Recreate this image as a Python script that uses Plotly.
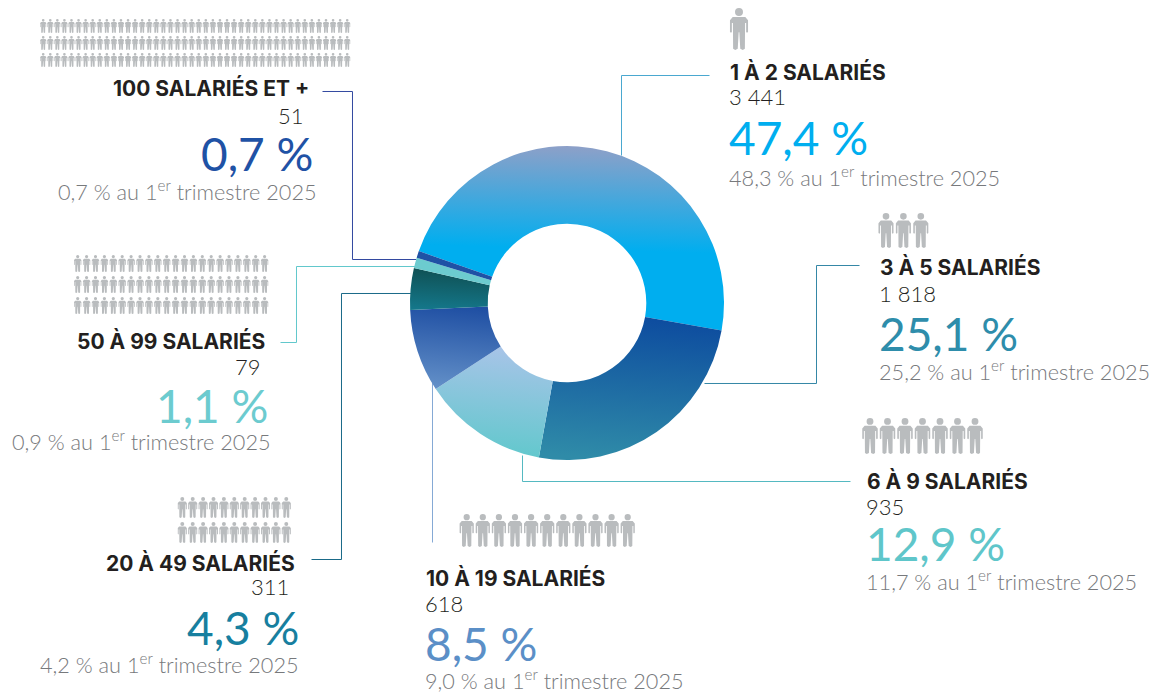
import plotly.graph_objects as go

W, H = 1159, 693

# ---- data ----
categories = ["1 À 2 SALARIÉS", "3 À 5 SALARIÉS", "6 À 9 SALARIÉS", "10 À 19 SALARIÉS",
              "20 À 49 SALARIÉS", "50 À 99 SALARIÉS", "100 SALARIÉS ET +"]
counts = [3441, 1818, 935, 618, 311, 79, 51]
count_labels = ["3 441", "1 818", "935", "618", "311", "79", "51"]
shares = ["47,4 %", "25,1 %", "12,9 %", "8,5 %", "4,3 %", "1,1 %", "0,7 %"]
previous = ["48,3 %", "25,2 %", "11,7 %", "9,0 %", "4,2 %", "0,9 %", "0,7 %"]

# ---- styles ----
slice_colors = ["#00aeef", "#1a6ea3", "#8cc8dc", "#3a6cb0", "#126570", "#6ccbcf", "#1f52a5"]
share_colors = ["#00aeef", "#2e8dab", "#5fc6ca", "#5b8fc7", "#177f9f", "#6ccbcf", "#1f52a5"]
line_colors = ["#4aa8d0", "#3587a6", "#55b9c1", "#85a9d5", "#1a6a88", "#62c8cc", "#3349a0"]
# per-slice gradient: (x1,y1,x2,y2, [(offset,color),...])
gradients = [
    (0.55, 0, 0.5, 1, [(0, "#8ea0c8"), (0.56, "#00aeef"), (1, "#00aeef")]),
    (0.55, 0, 0.45, 1, [(0, "#0d4c9f"), (1, "#2f8ba8")]),
    (0.55, 0, 0.45, 1, [(0, "#a8c4e8"), (1, "#60c8cc")]),
    (0.55, 0, 0.45, 1, [(0, "#1f4fa3"), (1, "#6390c8")]),
    (0.55, 0, 0.45, 1, [(0, "#0f4f52"), (1, "#14778a")]),
    (0, 0, 0, 1, [(0, "#6ccbcf"), (1, "#6ccbcf")]),
    (0, 0, 0, 1, [(0, "#1f52a5"), (1, "#1f52a5")]),
]
TITLE, TEXT, PREV, ICON = "#231f20", "#231f20", "#77797c", "#b9bcbe"

# ---- layout positions in pixels: anchor, x for title/count/share/prev, y for the same ----
text_layout = [
    ("left", (730, 730, 730, 730), (72, 97, 138, 177)),
    ("left", (880, 880, 880, 880), (267, 293, 333, 371)),
    ("left", (867, 867, 867, 867), (481, 506, 544, 581)),
    ("left", (426, 426, 426, 426), (578, 603, 643, 679)),
    ("right", (294, 288, 298, 298), (563, 587, 628, 663)),
    ("right", (264, 260, 267, 270), (341, 366, 405, 441)),
    ("right", (308, 303, 312, 316), (88, 115, 153, 191)),
]
leaders = [
    [(621, 155), (621, 75), (709, 75)],
    [(704, 383), (816, 383), (816, 265), (859, 265)],
    [(522, 455), (522, 481), (850, 481)],
    [(432, 380), (432, 542)],
    [(412, 293), (341, 293), (341, 559), (311, 559)],
    [(415, 266), (296, 266), (296, 342), (280, 342)],
    [(416, 259), (352, 259), (352, 91), (322, 91)],
]
# icon groups: first centre x, pitch, number per row, row top ys, icon height
icon_groups = [
    (739, 0, 1, [8], 42),
    (886, 17.4, 3, [213], 35),
    (870, 17.5, 7, [418], 36),
    (466.7, 16.1, 11, [514], 33),
    (182.3, 10.4, 11, [497, 522], 21),
    (77.7, 8.9, 22, [255, 276, 297], 17),
    (43.2, 7.07, 44, [19, 36, 53], 14),
]


def px(x):
    return round(x / W, 5)


def py(y):
    return round(1 - y / H, 5)


def person(cx, top, h):
    """SVG path of one standing person, in paper coordinates."""
    def P(u, v):
        return f"{px(cx + u * h)},{py(top + v * h)}"
    r = 0.095
    d = (f"M{P(0, 0)}Q{P(r, 0)} {P(r, r)}Q{P(r, 2 * r)} {P(0, 2 * r)}"
         f"Q{P(-r, 2 * r)} {P(-r, r)}Q{P(-r, 0)} {P(0, 0)}Z")
    half = [(0.15, 0.215), (0.215, 0.29), (0.215, 0.57), (0.19, 0.59), (0.17, 0.57),
            (0.17, 0.36), (0.145, 0.36), (0.14, 0.97), (0.09, 1.0), (0.03, 0.97), (0.008, 0.58)]
    left = [(-u, v) for u, v in reversed(half)]
    pts = half + left
    d += f"M{P(*pts[0])}" + "".join(f"L{P(*p)}" for p in pts[1:]) + "Z"
    return d


shapes = []
for first, pitch, n, tops, h in icon_groups:
    path = "".join(person(first + i * pitch, t, h) for t in tops for i in range(n))
    shapes.append(dict(type="path", path=path, xref="paper", yref="paper",
                       fillcolor=ICON, line=dict(width=0), layer="below"))
for pts, col in zip(leaders, line_colors):
    path = "M" + "L".join(f"{px(x + 0.5)},{py(y + 0.5)}" for x, y in pts)
    shapes.append(dict(type="path", path=path, xref="paper", yref="paper",
                       line=dict(color=col, width=1), layer="below"))

annotations = []


def note(x, y, text, anchor, size, color, weight=400, family="Lato", left_shift=-2):
    shift = left_shift if anchor == "left" else 2
    annotations.append(dict(x=px(x + shift), y=py(y), xref="paper", yref="paper", text=text, showarrow=False,
                            xanchor=anchor, yanchor="middle", align=anchor, borderpad=0,
                            font=dict(family=family, size=size, color=color, weight=weight)))


for i, (anchor, xs, ys) in enumerate(text_layout):
    note(xs[0], ys[0], categories[i], anchor, 21, TITLE, 700, "Inter", left_shift=-1)
    note(xs[1], ys[1], count_labels[i], anchor, 22, TEXT, 300)
    note(xs[2], ys[2], shares[i], anchor, 46, share_colors[i], 400)
    note(xs[3], ys[3], f"{previous[i]} au 1<sup>er</sup> trimestre 2025", anchor, 21.7, PREV, 300)

fig = go.Figure(go.Pie(
    labels=categories, values=counts, sort=False, direction="clockwise", rotation=289.3,
    hole=0.505, textinfo="none", hoverinfo="skip", showlegend=False,
    marker=dict(colors=slice_colors, line=dict(width=0)),
    domain=dict(x=[410 / W, 724 / W], y=[1 - 460 / H, 1 - 146 / H]),
))
fig.update_layout(width=W, height=H, margin=dict(l=0, r=0, t=0, b=0), paper_bgcolor="white",
                  plot_bgcolor="white", shapes=shapes, annotations=annotations)

grad_js = "["
for x1, y1, x2, y2, stops in gradients:
    grad_js += "[%s,%s,%s,%s,[%s]]," % (x1, y1, x2, y2, ",".join(f"[{o},'{c}']" for o, c in stops))
grad_js += "]"

post = """
document.body.style.margin='0';
var gd=document.getElementById('{plot_id}');
var G=%s;
var NS='http://www.w3.org/2000/svg';
var svg=gd.querySelector('svg.main-svg');
var defs=svg.querySelector('defs')||svg.insertBefore(document.createElementNS(NS,'defs'),svg.firstChild);
G.forEach(function(g,i){
  var lg=document.createElementNS(NS,'linearGradient');
  lg.setAttribute('id','slicegrad'+i);
  ['x1','y1','x2','y2'].forEach(function(k,j){lg.setAttribute(k,g[j]);});
  g[4].forEach(function(s){
    var st=document.createElementNS(NS,'stop');
    st.setAttribute('offset',s[0]);st.setAttribute('stop-color',s[1]);lg.appendChild(st);
  });
  defs.appendChild(lg);
});
gd.querySelectorAll('.slice path.surface').forEach(function(p,i){
  p.style.fill='url(#slicegrad'+i+')';
});
""" % grad_js

fig.write_html("out.html", post_script=post, config=dict(displayModeBar=False, staticPlot=True))
